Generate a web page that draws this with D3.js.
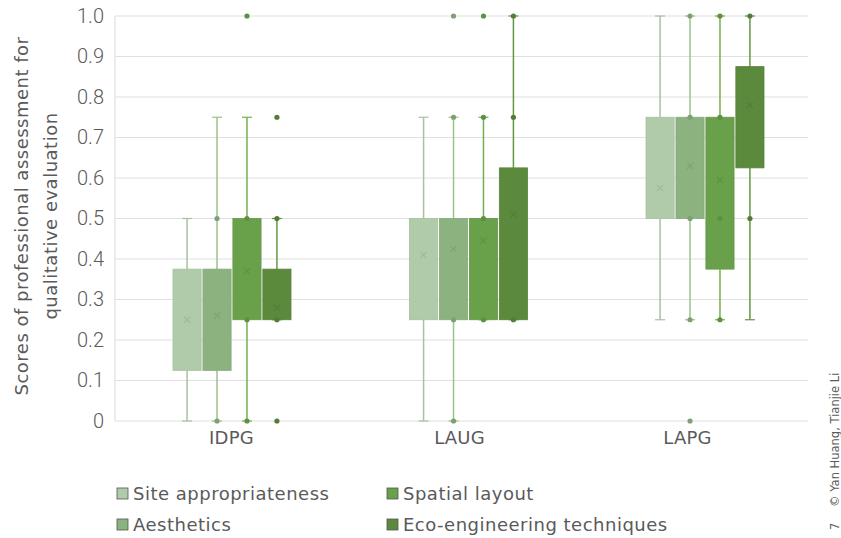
<!DOCTYPE html>
<html>
<head>
<meta charset="utf-8">
<title>Scores of professional assessment</title>
<script src="https://cdn.jsdelivr.net/npm/d3@7"></script>
<style>
  body { margin: 0; background: #fff; }
  text { font-family: "DejaVu Sans", sans-serif; fill: #5a5a5a; }
</style>
</head>
<body>
<div id="chart"></div>
<script>
const categories = ["IDPG", "LAUG", "LAPG"];
const series = ["Site appropriateness", "Aesthetics", "Spatial layout", "Eco-engineering techniques"];
const colors = ["#b0cba9", "#8cb27f", "#69a04a", "#5b8a3d"];
const yTicks = [0, 0.1, 0.2, 0.3, 0.4, 0.5, 0.6, 0.7, 0.8, 0.9, 1.0];

// per series, per category (IDPG, LAUG, LAPG)
const whiskerLow = [[0, 0, 0.25], [0, 0, 0.25], [0, 0.25, 0.25], [0.25, 0.25, 0.25]];
const q1 = [[0.125, 0.25, 0.5], [0.125, 0.25, 0.5], [0.25, 0.25, 0.375], [0.25, 0.25, 0.625]];
const q3 = [[0.375, 0.5, 0.75], [0.375, 0.5, 0.75], [0.5, 0.5, 0.75], [0.375, 0.625, 0.875]];
const whiskerHigh = [[0.5, 0.75, 1.0], [0.75, 0.75, 1.0], [0.75, 0.75, 1.0], [0.5, 1.0, 1.0]];
const means = [[0.25, 0.41, 0.575], [0.26, 0.425, 0.63], [0.37, 0.445, 0.595], [0.28, 0.51, 0.78]];
const points = [
  [[], [], []],
  [[0.5, 0], [0.75, 1.0, 0.25, 0], [1.0, 0.75, 0.5, 0.25, 0]],
  [[1.0, 0.5, 0.25, 0], [1.0, 0.75, 0.5, 0.25], [1.0, 0.75, 0.5, 0.25]],
  [[0.75, 0.5, 0.25, 0], [1.0, 0.75, 0.25], [1.0, 0.5]]
];

const width = 841, height = 538;
const margin = {left: 115, right: 33, top: 16, bottom: 117};

const svg = d3.select("#chart").append("svg")
  .attr("width", width)
  .attr("height", height);

// group centres for boxes, and for the category labels (slightly offset in the original)
const xBox = d3.scalePoint().domain(categories).range([232, 705]);
const xLab = d3.scalePoint().domain(categories).range([231, 687]);

const x1 = d3.scaleBand()
  .domain(series)
  .range([-59, 59])
  .paddingInner(0.06);

const y = d3.scaleLinear()
  .domain([0, 1])
  .range([height - margin.bottom, margin.top]);

// grid
svg.append("g")
  .selectAll("line")
  .data(yTicks)
  .join("line")
  .attr("x1", margin.left)
  .attr("x2", width - margin.right)
  .attr("y1", d => y(d))
  .attr("y2", d => y(d))
  .attr("stroke", "#e2dfe2")
  .attr("stroke-width", 1.2);

svg.append("line")
  .attr("x1", margin.left).attr("x2", margin.left)
  .attr("y1", y(1)).attr("y2", y(0))
  .attr("stroke", "#e2dfe2").attr("stroke-width", 1.2);

// y axis
const yAxis = svg.append("g")
  .attr("transform", `translate(${margin.left},0)`)
  .call(d3.axisLeft(y).tickValues(yTicks).tickSize(0).tickPadding(11)
    .tickFormat(d => d === 0 ? "0" : d3.format(".1f")(d)));
yAxis.select(".domain").remove();
yAxis.selectAll("text")
  .style("font-family", "Roboto, sans-serif")
  .style("font-size", "20px")
  .style("font-weight", 300)
  .attr("fill", "#505050");

// x axis
const xAxis = svg.append("g")
  .attr("transform", `translate(0,${y(0)})`)
  .call(d3.axisBottom(xLab).tickSize(0).tickPadding(10));
xAxis.select(".domain").remove();
xAxis.selectAll("text")
  .style("font-size", "18px")
  .style("letter-spacing", "0.2px")
  .attr("fill", "#5a5a5a");

// axis title
const title = svg.append("text")
  .attr("transform", "translate(28,216) rotate(-90)")
  .attr("text-anchor", "middle")
  .style("font-size", "18px")
  .style("letter-spacing", "0.5px");
title.append("tspan").attr("x", 0).attr("dy", 0).text("Scores of professional assessment for");
title.append("tspan").attr("x", 0).attr("dy", "1.6em").text("qualitative evaluation");

// boxes
series.forEach((s, si) => {
  const g = svg.append("g");
  categories.forEach((c, ci) => {
    const bx = xBox(c) + x1(s);
    const bw = x1.bandwidth();
    const cx = bx + bw / 2;
    const col = d3.color(colors[si]);
    const lineCol = si === 0 ? "#a9c0a3" : col.brighter(0.25);

    // whiskers
    g.append("line")
      .attr("x1", cx).attr("x2", cx)
      .attr("y1", y(whiskerHigh[si][ci])).attr("y2", y(q3[si][ci]))
      .attr("stroke", lineCol).attr("stroke-width", 1.5);
    g.append("line")
      .attr("x1", cx).attr("x2", cx)
      .attr("y1", y(q1[si][ci])).attr("y2", y(whiskerLow[si][ci]))
      .attr("stroke", lineCol).attr("stroke-width", 1.5);
    [whiskerHigh[si][ci], whiskerLow[si][ci]].forEach(v => {
      g.append("line")
        .attr("x1", cx - 5).attr("x2", cx + 5)
        .attr("y1", y(v)).attr("y2", y(v))
        .attr("stroke", lineCol).attr("stroke-width", 1.2);
    });

    // box
    g.append("rect")
      .attr("x", bx).attr("width", bw)
      .attr("y", y(q3[si][ci]))
      .attr("height", y(q1[si][ci]) - y(q3[si][ci]))
      .attr("fill", colors[si])
      .attr("stroke", col.darker(0.15))
      .attr("stroke-width", 0.8);

    // mean marker
    const my = y(means[si][ci]), m = 3;
    g.append("path")
      .attr("d", `M${cx - m},${my - m}L${cx + m},${my + m}M${cx - m},${my + m}L${cx + m},${my - m}`)
      .attr("stroke", col.darker(0.5))
      .attr("stroke-opacity", 0.5)
      .attr("stroke-width", 1.2);

    // points
    g.selectAll(null)
      .data(points[si][ci])
      .join("circle")
      .attr("cx", cx)
      .attr("cy", d => y(d))
      .attr("r", 2.6)
      .attr("fill", col.darker(0.3));
  });
});

// legend
const legend = svg.append("g");
const legendPos = [[117, 494], [117, 525], [387, 494], [387, 525]];
series.forEach((s, i) => {
  const [lx, ly] = legendPos[i];
  legend.append("rect")
    .attr("x", lx).attr("y", ly - 6)
    .attr("width", 11).attr("height", 11)
    .attr("fill", colors[i])
    .attr("stroke", "#555").attr("stroke-width", 0.8);
  legend.append("text")
    .attr("x", lx + 16).attr("y", ly)
    .attr("dy", "0.35em")
    .style("font-size", "18px")
    .style("letter-spacing", "0.5px")
    .text(s);
});

// credit
svg.append("text")
  .attr("transform", "translate(839,507) rotate(-90)")
  .style("font-size", "11.5px")
  .attr("fill", "#555")
  .text("© Yan Huang, Tianjie Li");
svg.append("text")
  .attr("transform", "translate(839,530) rotate(-90)")
  .style("font-size", "11.5px")
  .attr("fill", "#555")
  .text("7");
</script>
</body>
</html>
